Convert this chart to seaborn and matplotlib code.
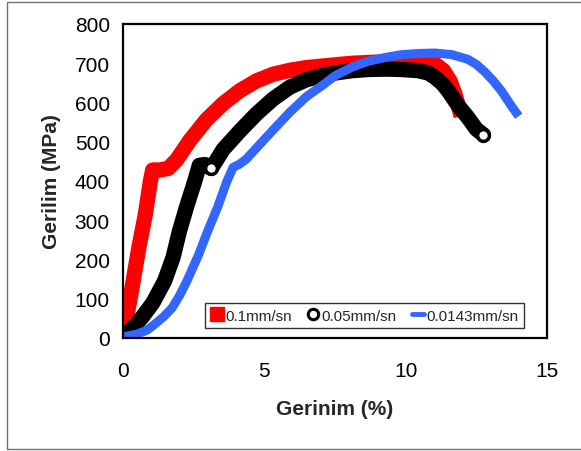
import pandas as pd
import matplotlib.pyplot as plt
import matplotlib.patches as patches
from matplotlib.lines import Line2D
from matplotlib.ticker import MultipleLocator
import seaborn as sns

# Stress-strain curves
red_x = [0.0, 0.1, 0.3, 0.56, 0.79, 0.97, 1.05, 1.3, 1.6, 1.9, 2.36, 2.95, 3.54, 4.13, 4.72, 5.31, 5.9,
         6.49, 7.08, 7.5, 8.1, 8.7, 9.3, 9.86, 10.5, 11.04, 11.33, 11.57, 11.75, 11.89]
red_y = [15, 43, 120, 230, 315, 400, 428, 428, 432, 454, 503, 556, 597, 630, 655, 672, 682,
         689, 693, 696, 700, 702, 704, 705, 704, 698, 682, 655, 620, 584]

black_x = [0.05, 0.35, 0.7, 1.06, 1.47, 1.77, 2.0, 2.24, 2.54, 2.7, 2.9, 3.12, 3.3, 3.54, 4.13, 4.72,
           5.31, 5.9, 6.49, 7.08, 7.5, 8.1, 8.68, 9.3, 9.86, 10.45, 10.8, 11.04, 11.3, 11.5, 11.86,
           12.2, 12.5, 12.75]
black_y = [3, 25, 55, 90, 145, 205, 273, 332, 400, 440, 442, 432, 452, 480, 527, 571,
           609, 639, 658, 669, 675, 681, 684, 685, 684, 681, 675, 664, 648, 630, 592,
           562, 532, 518]

blue_x = [0.0, 0.5, 0.85, 1.12, 1.45, 1.74, 2.0, 2.26, 2.68, 3.0, 3.34, 3.68, 3.9, 4.1, 4.35, 4.72,
          5.31, 5.9, 6.49, 7.08, 7.5, 8.1, 8.68, 9.3, 9.86, 10.5, 11.04, 11.63, 12.2, 12.5, 12.8,
          13.1, 13.4, 13.75, 14.0]
blue_y = [3, 10, 20, 35, 55, 77, 108, 145, 213, 273, 332, 400, 435, 442, 455, 484,
          530, 575, 615, 645, 668, 690, 705, 715, 722, 725, 726, 722, 710, 697, 678,
          655, 628, 590, 565]

labels = ["0.1mm/sn", "0.05mm/sn", "0.0143mm/sn"]

red = pd.DataFrame({"x": red_x, "y": red_y})
black = pd.DataFrame({"x": black_x, "y": black_y})
blue = pd.DataFrame({"x": blue_x, "y": blue_y})

sns.set_style("white")
plt.rcParams["font.family"] = ["Liberation Sans", "DejaVu Sans"]

fig = plt.figure(figsize=(5.81, 4.52), dpi=100)
ax = fig.add_axes([0.2117, 0.25, 0.7298, 0.6947])

# outer frame
fig.patches.append(patches.Rectangle((0.012, 0.0044), 1.2, 0.989, transform=fig.transFigure,
                                     fill=False, edgecolor="#707070", linewidth=1.0))

sns.lineplot(data=red, x="x", y="y", sort=False, estimator=None, ax=ax, color="#FF0000",
             linewidth=11, solid_capstyle="projecting", solid_joinstyle="round")
sns.lineplot(data=black, x="x", y="y", sort=False, estimator=None, ax=ax, color="black",
             linewidth=11, solid_capstyle="round", solid_joinstyle="round",
             marker="o", markevery=[11, len(black_x) - 1], markersize=8.5,
             markerfacecolor="white", markeredgecolor="black", markeredgewidth=2.5)
sns.lineplot(data=blue, x="x", y="y", sort=False, estimator=None, ax=ax, color="#3366FF",
             linewidth=6.5, solid_capstyle="butt", solid_joinstyle="round")

ax.set_xlim(0, 15)
ax.set_ylim(0, 800)
ax.xaxis.set_major_locator(MultipleLocator(5))
ax.xaxis.set_minor_locator(MultipleLocator(1))
ax.yaxis.set_major_locator(MultipleLocator(100))
ax.yaxis.set_minor_locator(MultipleLocator(20))

for s in ax.spines.values():
    s.set_color("black")
    s.set_linewidth(1.6)

ax.tick_params(axis="both", which="major", direction="inout", length=9, width=1.2,
               labelsize=15, colors="black")
ax.tick_params(axis="both", which="minor", direction="in", length=4, width=1.0)
ax.tick_params(axis="x", which="major", pad=12)
ax.tick_params(axis="y", which="major", pad=5)

ax.set_xlabel("Gerinim (%)", fontsize=15, fontweight="bold", labelpad=14)
ax.set_ylabel("Gerilim (MPa)", fontsize=15, fontweight="bold", labelpad=10)

handles = [
    Line2D([], [], linestyle="none", marker="s", markersize=10, color="#FF0000"),
    Line2D([], [], linestyle="none", marker="o", markersize=7.5, markerfacecolor="white",
           markeredgecolor="black", markeredgewidth=2.2),
    Line2D([], [], color="#3366FF", linewidth=3.5),
]
leg = ax.legend(handles, labels, loc="lower right", bbox_to_anchor=(0.946, 0.032), ncol=3,
                fontsize=11, frameon=True, fancybox=False, edgecolor="black",
                handlelength=0.8, handletextpad=0.15, columnspacing=1.0,
                borderpad=0.35, borderaxespad=0)
leg.get_frame().set_linewidth(1.0)

fig.savefig("out.png", dpi=100, facecolor="white")
